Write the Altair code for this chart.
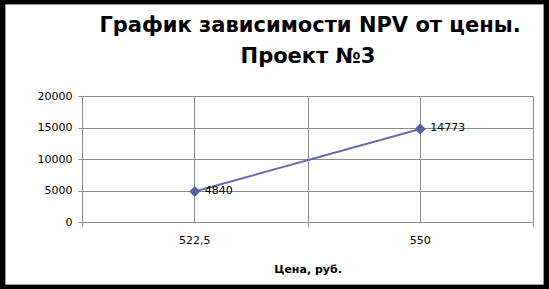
import altair as alt
import pandas as pd

prices = ["522,5", "550"]
npv = [4840, 14773]
y_ticks = [0, 5000, 10000, 15000, 20000]
title_lines = ["График зависимости NPV от цены.", "Проект №3"]
x_title = "Цена, руб."

df = pd.DataFrame({"price": prices, "npv": npv})

FONT = "DejaVu Sans"
GRID = "#8c8c8c"
LINE = "#6a6aa6"

xscale = alt.Scale(paddingInner=0, paddingOuter=0)
yscale = alt.Scale(domain=[0, 20000])

y_enc = alt.Y("npv:Q", scale=yscale,
              axis=alt.Axis(values=y_ticks, format="d", title=None, grid=True, gridColor=GRID,
                            domainColor=GRID, tickColor=GRID, tickSize=4, labelPadding=6,
                            labelFont=FONT, labelFontSize=11, labelColor="black"))

base = alt.Chart(df)

line = base.mark_line(color=LINE, strokeWidth=2).encode(
    x=alt.X("price:N", sort=prices, scale=xscale,
            axis=alt.Axis(title=x_title, grid=True, gridColor=GRID, ticks=False,
                          domainColor=GRID, labelAngle=0, labelPadding=12,
                          labelFont=FONT, labelFontSize=11, labelColor="black",
                          titleFont=FONT, titleFontSize=11, titleFontWeight="bold",
                          titlePadding=18, titleColor="black")),
    y=y_enc,
)

points = base.mark_point(shape="diamond", filled=True, size=125, color="#5e5e9e", opacity=1).encode(
    x=alt.X("price:N", sort=prices, scale=xscale,
            axis=alt.Axis(tickBand="extent", grid=True, gridColor=GRID, labels=False,
                          domain=False, ticks=True, tickColor=GRID, tickSize=5,
                          title=None, orient="bottom")),
    y=y_enc,
)

labels = base.mark_text(align="left", dx=10, dy=-1, font=FONT, fontSize=11, color="black").encode(
    x=alt.X("price:N", sort=prices, scale=xscale, axis=None),
    y=y_enc,
    text=alt.Text("npv:Q", format="d"),
)

frame_data = alt.Data(values=[{"k": 1}])
frame = alt.Chart(frame_data).mark_rect(fillOpacity=0, stroke="black", strokeWidth=10).encode(
    x=alt.value(-82), x2=alt.value(467), y=alt.value(-96), y2=alt.value(193)
)
inner = alt.Chart(frame_data).mark_rect(fillOpacity=0, stroke="#9a9a9a", strokeWidth=1).encode(
    x=alt.value(-76.5), x2=alt.value(461.5), y=alt.value(-91.5), y2=alt.value(188.5)
)
title1 = alt.Chart(frame_data).mark_text(
    text=title_lines[0], font=FONT, fontSize=21, fontWeight="bold", color="black",
    align="center", baseline="middle"
).encode(x=alt.value(228), y=alt.value(-70))
title2 = alt.Chart(frame_data).mark_text(
    text=title_lines[1], font=FONT, fontSize=21, fontWeight="bold", color="black",
    align="center", baseline="middle"
).encode(x=alt.value(226), y=alt.value(-39))

chart = alt.layer(line, points, labels, title1, title2, frame, inner).resolve_axis(
    x="independent"
).properties(
    width=451, height=126,
    padding={"left": 82, "top": 96, "right": 16, "bottom": 67},
    autosize=alt.AutoSizeParams(type="none"),
).configure_view(strokeWidth=0)

chart.save("out.html", embed_options={"renderer": "svg", "actions": False})
